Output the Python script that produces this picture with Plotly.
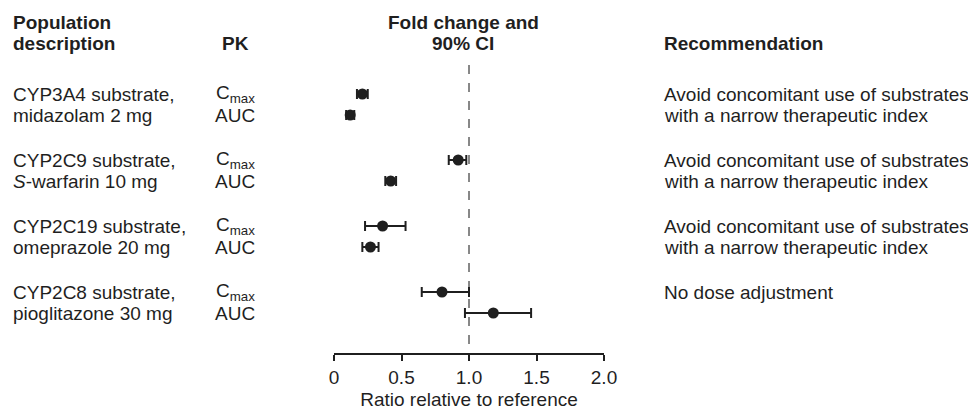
import plotly.graph_objects as go

# ---- data ----
desc_line1 = ["CYP3A4 substrate,", "CYP2C9 substrate,", "CYP2C19 substrate,", "CYP2C8 substrate,"]
desc_line2 = ["midazolam 2 mg", "<i>S</i>-warfarin 10 mg", "omeprazole 20 mg", "pioglitazone 30 mg"]
pk_params = ["C<sub>max</sub>", "AUC"]
recommend1 = ["Avoid concomitant use of substrates", "Avoid concomitant use of substrates",
              "Avoid concomitant use of substrates", "No dose adjustment"]
recommend2 = ["with a narrow therapeutic index", "with a narrow therapeutic index",
              "with a narrow therapeutic index", ""]
cmax_ratio = [0.21, 0.92, 0.36, 0.80]
cmax_lo = [0.17, 0.85, 0.23, 0.65]
cmax_hi = [0.25, 0.98, 0.53, 1.00]
auc_ratio = [0.12, 0.42, 0.27, 1.18]
auc_lo = [0.09, 0.38, 0.21, 0.97]
auc_hi = [0.15, 0.46, 0.33, 1.46]
x_ticks = [0, 0.5, 1.0, 1.5, 2.0]
x_ticklabels = ["0", "0.5", "1.0", "1.5", "2.0"]

# ---- layout geometry ----
W, H = 968, 411
L, R = 334, 604          # plot area in pixels
T, B = 0, 353
FONT = "Liberation Sans, Arial, sans-serif"
INK = "#1f1f1f"
FS = 19

def px_x(p):
    return (p - L) / (R - L)

n = len(desc_line1)
y_cmax = [94 + 66 * g for g in range(n)]
y_auc = [115 + 66 * g for g in range(n)]

ys, xs, lo, hi = [], [], [], []
for g in range(n):
    ys += [y_cmax[g], y_auc[g]]
    xs += [cmax_ratio[g], auc_ratio[g]]
    lo += [cmax_lo[g], auc_lo[g]]
    hi += [cmax_hi[g], auc_hi[g]]

fig = go.Figure()
fig.add_trace(go.Scatter(
    x=xs, y=ys, mode="markers",
    marker=dict(size=11, color=INK, symbol="circle"),
    error_x=dict(type="data", symmetric=False,
                 array=[h - x for h, x in zip(hi, xs)],
                 arrayminus=[x - l for x, l in zip(xs, lo)],
                 color=INK, thickness=2, width=5),
    showlegend=False, hoverinfo="skip",
))

fig.add_shape(type="line", xref="x", yref="y", x0=1.0, x1=1.0, y0=65, y1=B,
              line=dict(color="#111111", width=1, dash="dash"), layer="below")

ann = []
def add(text, xpx, y, anchor="left", bold=False, size=FS):
    ann.append(dict(text=f"<b>{text}</b>" if bold else text, xref="paper", yref="y",
                    x=px_x(xpx), y=y, xanchor=anchor, yanchor="middle", showarrow=False,
                    font=dict(family=FONT, size=size, color=INK)))

# headers
add("Population", 11, 22, bold=True)
add("description", 11, 43, bold=True)
add("PK", 235, 43, anchor="center", bold=True)
add("Fold change and", 463, 22, anchor="center", bold=True)
add("90% CI", 463, 43, anchor="center", bold=True)
add("Recommendation", 662, 43, bold=True)

for g in range(n):
    add(desc_line1[g], 11, y_cmax[g])
    add(desc_line2[g], 11, y_auc[g])
    add(pk_params[0], 235, y_cmax[g], anchor="center")
    add(pk_params[1], 235, y_auc[g], anchor="center")
    add(recommend1[g], 662, y_cmax[g])
    if recommend2[g]:
        add(recommend2[g], 662, y_auc[g])

fig.update_layout(
    width=W, height=H,
    margin=dict(l=L, r=W - R, t=T, b=H - B, pad=0),
    paper_bgcolor="white", plot_bgcolor="white",
    annotations=ann,
    xaxis=dict(range=[0, 2], tickvals=x_ticks, ticktext=x_ticklabels,
               showgrid=False, zeroline=False, showline=True, linecolor=INK, linewidth=2,
               ticks="outside", ticklen=6, tickwidth=2, tickcolor=INK,
               tickfont=dict(family=FONT, size=FS, color=INK),
               title=dict(text="Ratio relative to reference", standoff=6,
                          font=dict(family=FONT, size=FS, color=INK)),
               fixedrange=True),
    yaxis=dict(range=[B, 0], visible=False, showgrid=False, zeroline=False, fixedrange=True),
)

fig.write_html("out.html", config={"displayModeBar": False},
               post_script="document.body.style.margin='0';document.body.style.overflow='hidden';")
